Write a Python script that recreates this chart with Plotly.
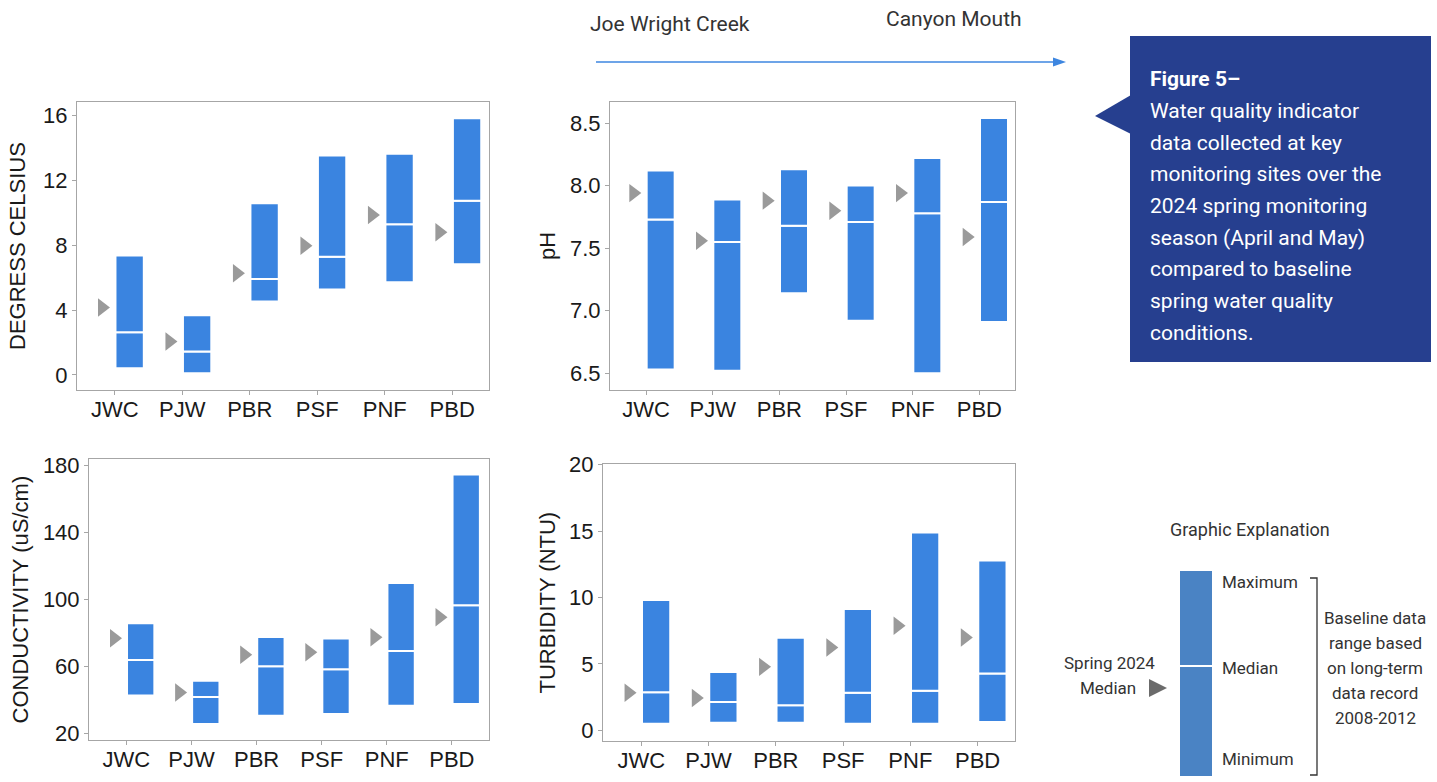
import numpy as np
import plotly.graph_objects as go

W, H = 1437, 782

sites = ["JWC", "PJW", "PBR", "PSF", "PNF", "PBD"]

# Temperature (degrees Celsius)
temp_min = [0.41, 0.10, 4.53, 5.27, 5.72, 6.83]
temp_med = [2.63, 1.44, 5.93, 7.30, 9.30, 10.76]
temp_max = [7.37, 3.68, 10.60, 13.54, 13.66, 15.84]
temp_2024 = [4.16, 2.06, 6.28, 7.98, 9.88, 8.81]

# pH
ph_min = [6.53, 6.52, 7.14, 6.92, 6.50, 6.91]
ph_med = [7.73, 7.55, 7.68, 7.71, 7.78, 7.87]
ph_max = [8.12, 7.89, 8.13, 8.00, 8.22, 8.54]
ph_2024 = [7.94, 7.56, 7.88, 7.80, 7.94, 7.59]

# Conductivity (uS/cm)
cond_min = [42.5, 25.6, 30.5, 31.5, 36.5, 37.5]
cond_med = [63.7, 41.7, 60.0, 58.2, 69.1, 96.3]
cond_max = [85.6, 51.4, 77.5, 76.5, 109.7, 174.3]
cond_2024 = [76.7, 44.3, 66.9, 68.3, 77.3, 89.2]

# Turbidity (NTU)
turb_min = [0.50, 0.58, 0.58, 0.50, 0.50, 0.63]
turb_med = [2.87, 2.14, 1.89, 2.84, 2.99, 4.28]
turb_max = [9.81, 4.40, 6.97, 9.13, 14.89, 12.78]
turb_2024 = [2.84, 2.44, 4.78, 6.24, 7.87, 6.99]

BAR_COLOR = "#3A84E0"
ARROW_GRAY = "#9A9A9A"
AXIS_GRAY = "#A6A6A6"
TEXT_DARK = "#1A1A1A"
LEG_TEXT = "#333333"
BOX_BLUE = "#263F8F"
LEG_BAR = "#4A83C4"

def px(x):
    return x / W

def py(y):
    return 1 - y / H

panels = [
    dict(mn=temp_min, md=temp_med, mx=temp_max, sp=temp_2024,
         xd=(77, 489), yd=(102, 390), yr=[-0.93, 16.85], xr=[-0.56, 5.545],
         tv=[0, 4, 8, 12, 16], tf="d", title="DEGRESS CELSIUS", tx=18),
    dict(mn=ph_min, md=ph_med, mx=ph_max, sp=ph_2024,
         xd=(610, 1015), yd=(102, 390), yr=[6.367, 8.668], xr=[-0.54, 5.535],
         tv=[6.5, 7.0, 7.5, 8.0, 8.5], tf=".1f", title="pH", tx=548),
    dict(mn=cond_min, md=cond_med, mx=cond_max, sp=cond_2024,
         xd=(89, 489), yd=(459, 740), yr=[16.0, 183.6], xr=[-0.574, 5.57],
         tv=[20, 60, 100, 140, 180], tf="d", title="CONDUCTIVITY (uS/cm)", tx=20),
    dict(mn=turb_min, md=turb_med, mx=turb_max, sp=turb_2024,
         xd=(603, 1015), yd=(464, 741), yr=[-0.8, 20.05], xr=[-0.57, 5.556],
         tv=[0, 5, 10, 15, 20], tf="d", title="TURBIDITY (NTU)", tx=547),
]

fig = go.Figure()
pos = np.arange(len(sites))
BAR_OFF, BAR_W, ARR_OFF = 0.22, 0.42, -0.19

annotations = []
shapes = []
axis_font = dict(family="Liberation Sans, Arial, sans-serif", size=22, color=TEXT_DARK)

for i, p in enumerate(panels, start=1):
    xa = "x" if i == 1 else f"x{i}"
    ya = "y" if i == 1 else f"y{i}"
    mn, md, mx = np.array(p["mn"]), np.array(p["md"]), np.array(p["mx"])
    fig.add_trace(go.Bar(x=pos + BAR_OFF, y=md - mn, base=mn, width=BAR_W,
                         marker=dict(color=BAR_COLOR, line=dict(color="white", width=2)),
                         xaxis=xa, yaxis=ya, showlegend=False, hoverinfo="skip"))
    fig.add_trace(go.Bar(x=pos + BAR_OFF, y=mx - md, base=md, width=BAR_W,
                         marker=dict(color=BAR_COLOR, line=dict(color="white", width=2)),
                         xaxis=xa, yaxis=ya, showlegend=False, hoverinfo="skip"))
    fig.add_trace(go.Scatter(x=pos + ARR_OFF, y=p["sp"], mode="markers",
                             marker=dict(symbol="triangle-right", size=16, color=ARROW_GRAY),
                             xaxis=xa, yaxis=ya, showlegend=False, hoverinfo="skip"))
    sfx = "" if i == 1 else str(i)
    common = dict(showline=True, mirror=True, linecolor=AXIS_GRAY, linewidth=1,
                  ticks="outside", ticklen=4, tickcolor=AXIS_GRAY,
                  showgrid=False, zeroline=False, tickfont=axis_font, fixedrange=True)
    fig.update_layout(**{
        f"xaxis{sfx}": dict(domain=[px(p["xd"][0]), px(p["xd"][1])], range=p["xr"],
                            tickvals=list(pos), ticktext=sites, anchor=ya,
                            ticklabelstandoff=-4, **common),
        f"yaxis{sfx}": dict(domain=[py(p["yd"][1]), py(p["yd"][0])], range=p["yr"],
                            tickvals=p["tv"], tickformat=p["tf"], anchor=xa, **common),
    })
    annotations.append(dict(text=p["title"], xref="paper", yref="paper",
                            x=px(p["tx"]), y=py((p["yd"][0] + p["yd"][1]) / 2),
                            textangle=-90, showarrow=False, xanchor="center", yanchor="middle",
                            font=dict(family="Liberation Sans, Arial, sans-serif", size=22, color=TEXT_DARK)))

# Top direction arrow
top_font = dict(family="Roboto, sans-serif", size=21, color=LEG_TEXT)
annotations.append(dict(text="Joe Wright Creek", xref="paper", yref="paper", x=px(588), y=py(24),
                        xanchor="left", yanchor="middle", showarrow=False, font=top_font))
annotations.append(dict(text="Canyon Mouth", xref="paper", yref="paper", x=px(884), y=py(19),
                        xanchor="left", yanchor="middle", showarrow=False, font=top_font))
shapes.append(dict(type="line", xref="paper", yref="paper", x0=px(596), x1=px(1054), y0=py(62), y1=py(62),
                   line=dict(color="#3D86E0", width=1.6)))
shapes.append(dict(type="path", xref="paper", yref="paper",
                   path=f"M {px(1053)} {py(57.5)} L {px(1066)} {py(62)} L {px(1053)} {py(66.5)} Z",
                   fillcolor="#3D86E0", line=dict(width=0)))

# Caption box
shapes.append(dict(type="rect", xref="paper", yref="paper", x0=px(1130), x1=px(1431), y0=py(362), y1=py(36),
                   fillcolor=BOX_BLUE, line=dict(width=0), layer="below"))
shapes.append(dict(type="path", xref="paper", yref="paper",
                   path=f"M {px(1131)} {py(95)} L {px(1095)} {py(116)} L {px(1131)} {py(134)} Z",
                   fillcolor=BOX_BLUE, line=dict(width=0), layer="below"))
caption = ["<b>Figure 5–</b>", "Water quality indicator", "data collected at key",
           "monitoring sites over the", "2024 spring monitoring", "season (April and May)",
           "compared to baseline", "spring water quality", "conditions."]
for k, line in enumerate(caption):
    annotations.append(dict(text=line, xref="paper", yref="paper", x=px(1148), y=py(79 + k * 31.75),
                            xanchor="left", yanchor="middle", showarrow=False,
                            font=dict(family="Roboto, sans-serif", size=21, color="white")))

# Graphic explanation
leg_font = dict(family="Roboto, sans-serif", size=17, color=LEG_TEXT)
annotations.append(dict(text="Graphic Explanation", xref="paper", yref="paper", x=px(1250), y=py(529),
                        xanchor="center", yanchor="middle", showarrow=False,
                        font=dict(family="Roboto, sans-serif", size=18, color=LEG_TEXT)))
shapes.append(dict(type="rect", xref="paper", yref="paper", x0=px(1180), x1=px(1212), y0=py(776), y1=py(571),
                   fillcolor=LEG_BAR, line=dict(width=0)))
shapes.append(dict(type="line", xref="paper", yref="paper", x0=px(1180), x1=px(1212), y0=py(666), y1=py(666),
                   line=dict(color="white", width=2)))
for txt, yy in [("Maximum", 582), ("Median", 668), ("Minimum", 759)]:
    annotations.append(dict(text=txt, xref="paper", yref="paper", x=px(1220), y=py(yy),
                            xanchor="left", yanchor="middle", showarrow=False, font=leg_font))
shapes.append(dict(type="path", xref="paper", yref="paper",
                   path=f"M {px(1310)} {py(578)} L {px(1317)} {py(578)} L {px(1317)} {py(775)} L {px(1310)} {py(775)}",
                   line=dict(color="#333333", width=1.3)))
for k, txt in enumerate(["Baseline data", "range based", "on long-term", "data record", "2008-2012"]):
    annotations.append(dict(text=txt, xref="paper", yref="paper", x=px(1375), y=py(618 + k * 25),
                            xanchor="center", yanchor="middle", showarrow=False, font=leg_font))
annotations.append(dict(text="Spring 2024", xref="paper", yref="paper", x=px(1157), y=py(663),
                        xanchor="right", yanchor="middle", showarrow=False, font=leg_font))
annotations.append(dict(text="Median", xref="paper", yref="paper", x=px(1138), y=py(688),
                        xanchor="right", yanchor="middle", showarrow=False, font=leg_font))
shapes.append(dict(type="path", xref="paper", yref="paper",
                   path=f"M {px(1149)} {py(679)} L {px(1167)} {py(688)} L {px(1149)} {py(697)} Z",
                   fillcolor="#6B6B6B", line=dict(width=0)))

fig.update_layout(width=W, height=H, margin=dict(l=0, r=0, t=0, b=0, autoexpand=False),
                  paper_bgcolor="white", plot_bgcolor="white", barmode="overlay",
                  annotations=annotations, shapes=shapes, showlegend=False)

fig.write_html("out.html", config=dict(displayModeBar=False),
               post_script="document.body.style.margin='0';document.body.style.overflow='hidden';")
